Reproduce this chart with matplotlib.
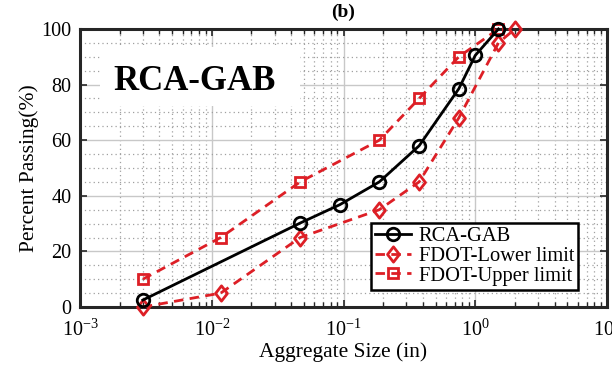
import matplotlib
matplotlib.use("Agg")
import matplotlib.pyplot as plt
import numpy as np
from matplotlib.ticker import LogLocator, NullFormatter, MultipleLocator
from matplotlib.patches import Rectangle
from matplotlib.path import Path

plt.rcParams['font.family'] = ['Liberation Serif', 'DejaVu Serif']
plt.rcParams['mathtext.fontset'] = 'stix'

rca_size = [0.003, 0.0469, 0.0937, 0.187, 0.375, 0.75, 1.0, 1.5]
rca_pass = [2.5, 30.2, 36.8, 45.0, 58.0, 78.5, 90.5, 100.0]

lower_size = [0.003, 0.0117, 0.0469, 0.187, 0.375, 0.75, 1.5, 2.0]
lower_pass = [0.0, 5.0, 25.0, 35.0, 45.0, 68.0, 95.0, 100.0]

upper_size = [0.003, 0.0117, 0.0469, 0.187, 0.375, 0.75, 1.5]
upper_pass = [10.0, 25.0, 45.0, 60.0, 75.0, 90.0, 100.0]

labels = ['RCA-GAB', 'FDOT-Lower limit', 'FDOT-Upper limit']

red = '#dd1f26'
diamond = Path([(0, 1), (0.78, 0), (0, -1), (-0.78, 0), (0, 1)],
               [Path.MOVETO, Path.LINETO, Path.LINETO, Path.LINETO, Path.CLOSEPOLY])

fig = plt.figure(figsize=(6.12, 3.68), dpi=100)
ax = fig.add_axes([80/612, 1-307/368, (607-80)/612, (307-29)/368])

ax.set_xscale('log')
ax.set_xlim(1e-3, 1e1)
ax.set_ylim(0, 100)

# grids
ax.grid(which='major', color='#c8c8c8', linestyle='-', linewidth=1.0)
ax.grid(which='minor', color='#a0a0a0', linestyle=(0, (1, 2.5)), linewidth=0.9)
ax.set_axisbelow(True)

dash = (0, (3.4, 2.3))
ax.plot(rca_size, rca_pass, color='black', lw=2.0, marker='o', ms=9,
        mfc='none', mec='black', mew=2.0, label=labels[0], zorder=5, clip_on=False)
ax.plot(lower_size, lower_pass, color=red, lw=2.0, ls=dash, marker=diamond, ms=11,
        mfc='none', mec=red, mew=2.0, label=labels[1], zorder=4, clip_on=False)
ax.plot(upper_size, upper_pass, color=red, lw=2.0, ls=dash, marker='s', ms=7.5,
        mfc='none', mec=red, mew=2.0, label=labels[2], zorder=4, clip_on=False)

ax.xaxis.set_major_locator(LogLocator(base=10, numticks=10))
ax.xaxis.set_minor_locator(LogLocator(base=10, subs=np.arange(2, 10), numticks=100))
ax.xaxis.set_minor_formatter(NullFormatter())
ax.yaxis.set_major_locator(MultipleLocator(20))
ax.yaxis.set_minor_locator(MultipleLocator(5))

ax.tick_params(which='both', direction='in', top=True, right=True, labelsize=14.5,
               color='#262626')
ax.tick_params(which='major', length=5, width=1.2, pad=6)
ax.tick_params(axis='x', which='major', pad=9)
ax.tick_params(which='minor', length=3.5, width=1.0)
ax.tick_params(axis='y', which='minor', length=0)

for s in ax.spines.values():
    s.set_linewidth(2.2)
    s.set_color('#262626')
    s.set_zorder(3)

ax.set_xlabel('Aggregate Size (in)', fontsize=15.5, labelpad=1)
ax.set_ylabel('Percent Passing(%)', fontsize=15.5, labelpad=2)
ax.set_title('(b)', fontsize=14, fontweight='bold', pad=9)

leg = ax.legend(loc='lower right', bbox_to_anchor=(0.957, 0.04), fontsize=14.8,
                frameon=True, fancybox=False, edgecolor='black', framealpha=1,
                borderpad=0.2, labelspacing=0.02, handlelength=1.75, handletextpad=0.35,
                borderaxespad=0.3)
leg.get_frame().set_linewidth(1.8)
leg.set_zorder(10)

ax.add_patch(Rectangle((0.038, 0.723), 0.379, 0.212, transform=ax.transAxes,
                       facecolor='white', edgecolor='none', zorder=2.5))
ax.text(0.218, 0.81, 'RCA-GAB', transform=ax.transAxes, fontsize=25, fontweight='bold',
        family=['Liberation Serif'], ha='center', va='center', zorder=6)

fig.savefig('out.png', dpi=100)
